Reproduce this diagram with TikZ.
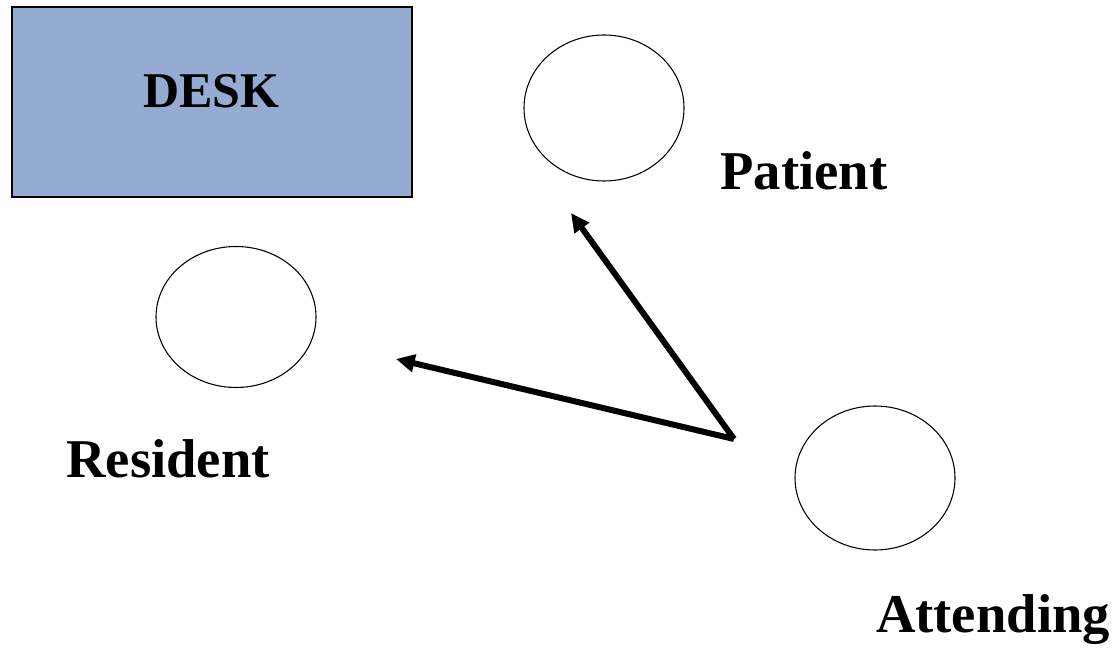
\documentclass[tikz,border=0pt]{standalone}
\usepackage{fontspec}
\setmainfont{Liberation Serif}
\usetikzlibrary{arrows.meta, shapes.geometric}
\definecolor{deskblue}{RGB}{149,171,209}

\begin{document}
\begin{tikzpicture}[x = 0.75pt, y = -0.75pt,
    person/.style={draw, thick, ellipse, inner sep=0pt, minimum width=120pt, minimum height=108pt},
    role/.style={font=\fontsize{41}{49}\selectfont\bfseries},
    move/.style={line width=4.5pt, -{Triangle[length=14pt, width=13pt]}}]
    % Page
    \useasboundingbox (0,0) rectangle (1116,648);
    % Desk
    \node[draw, line width=1.5pt, fill=deskblue, minimum width=300pt, minimum height=142.5pt,
          text depth=16.6pt, font=\fontsize{37.5}{45}\selectfont\bfseries] (desk) at (211.5,102.5) {DESK};

    % Circles
    \node[person, minimum height=109.5pt] (patient) at (604,108) {};
    \node[person, minimum height=105.75pt] (resident) at (236,317) {};
    \node[person] (attending) at (875,478) {};

    % Names
    \node[role] (patientname) at (804,171) {Patient};
    \node[role] (residentname) at (168,459) {Resident};
    \node[role] (attendingname) at (993,620) {Attending};

    % Arrows
    \coordinate (from) at (734,439);
    \coordinate (topatient) at (571,213);
    \coordinate (toresident) at (396,359);
    \draw[move] (from) -- (topatient);
    \draw[move] (from) -- (toresident);
\end{tikzpicture}
\end{document}
